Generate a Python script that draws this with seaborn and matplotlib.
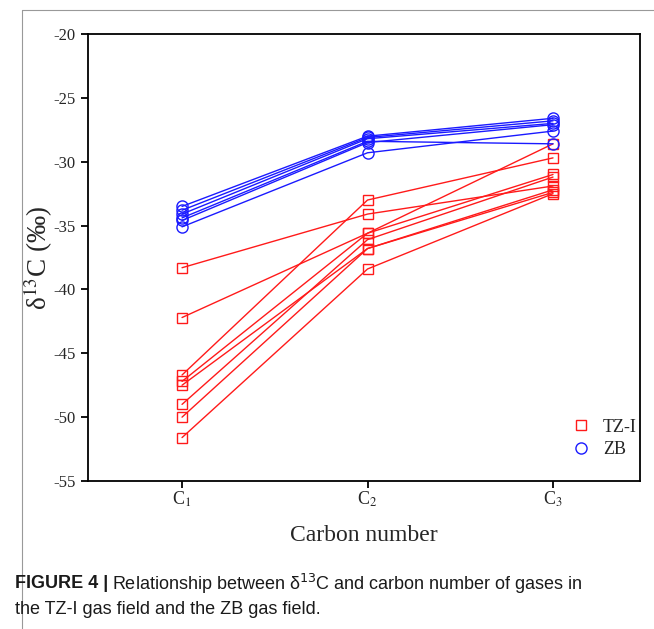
import numpy as np
import pandas as pd
import matplotlib
matplotlib.use("Agg")
import matplotlib.pyplot as plt
import seaborn as sns
from matplotlib.lines import Line2D
from matplotlib import font_manager

# ---------------- data ----------------
carbon_pos = [1, 2, 3]
carbon_labels = ["C$_1$", "C$_2$", "C$_3$"]

tz_c1 = [-38.3, -42.2, -46.7, -47.2, -47.5, -49.0, -50.0, -51.6]
tz_c2 = [-34.1, -35.6, -33.0, -35.6, -36.8, -36.1, -36.8, -38.4]
tz_c3 = [-31.9, -31.0, -29.7, -28.6, -32.2, -31.2, -32.4, -32.5]

zb_c1 = [-33.5, -33.8, -34.1, -34.4, -34.6, -35.1]
zb_c2 = [-28.0, -28.1, -28.2, -28.4, -28.5, -29.3]
zb_c3 = [-26.6, -26.8, -27.0, -28.6, -27.1, -27.6]

groups = ["TZ-I", "ZB"]
y_ticks = [-20, -25, -30, -35, -40, -45, -50, -55]


def long_form(name, c1, c2, c3):
    rows = []
    for i, vals in enumerate(zip(c1, c2, c3)):
        for x, v in zip(carbon_pos, vals):
            rows.append({"group": name, "sample": f"{name}-{i}", "carbon": x, "d13C": v})
    return rows


df = pd.DataFrame(long_form("TZ-I", tz_c1, tz_c2, tz_c3) + long_form("ZB", zb_c1, zb_c2, zb_c3))

# ---------------- style ----------------
sns.set_style("white")
plt.rcParams["font.family"] = ["Liberation Serif", "DejaVu Serif"]
plt.rcParams["mathtext.fontset"] = "stix"

fig = plt.figure(figsize=(6.54, 6.29), dpi=100)
ax = fig.add_axes([88 / 654, 1 - 481 / 629, (640 - 88) / 654, (481 - 34) / 629])

colors = {"TZ-I": "#ff1a1a", "ZB": "#1a1aff"}
markers = {"TZ-I": "s", "ZB": "o"}
msizes = {"TZ-I": 7.2, "ZB": 8.0}

for g in groups:
    sub = df[df["group"] == g]
    sns.lineplot(data=sub, x="carbon", y="d13C", units="sample", estimator=None,
                 color=colors[g], linewidth=1.0, marker=markers[g],
                 markersize=msizes[g], markerfacecolor="none",
                 markeredgecolor=colors[g], markeredgewidth=1.0,
                 legend=False, ax=ax, sort=False)

ax.set_xlim(0.493, 3.469)
ax.set_ylim(-55, -20)
ax.set_xticks(carbon_pos)
ax.set_xticklabels(carbon_labels, fontsize=13, family=["Liberation Serif"])
ax.set_yticks(y_ticks)
ax.set_yticklabels([str(t) for t in y_ticks], fontsize=12, family=["Liberation Serif"])
ax.tick_params(axis="x", pad=1.5)
ax.tick_params(axis="y", pad=4)
ax.tick_params(axis="both", direction="out", length=5, width=1.3, color="black",
               left=True, bottom=True, top=False, right=False)
for s in ax.spines.values():
    s.set_linewidth(1.3)
    s.set_color("black")

ax.set_xlabel("Carbon number", fontsize=17, labelpad=11)
ax.set_ylabel("δ$^{13}$C (‰)", fontsize=19.5, labelpad=-1)

handles = [Line2D([], [], linestyle="none", marker=markers[g], markersize=msizes[g],
                  markerfacecolor="none", markeredgecolor=colors[g], markeredgewidth=1.0)
           for g in groups]
ax.legend(handles, groups, loc="lower right", bbox_to_anchor=(1.024, 0.015),
          frameon=False, fontsize=13, handletextpad=0.75, labelspacing=0.3,
          handlelength=1.0)

# ---------------- caption ----------------
avail = {f.name for f in font_manager.fontManager.ttflist}
cap_font = ["Liberation Sans Narrow", "Liberation Sans", "DejaVu Sans"]
cap_font = [f for f in cap_font if f in avail] or ["DejaVu Sans"]

cap_size = 13
t1 = fig.text(15 / 654, 1 - 584 / 629, "FIGURE 4 |", fontsize=cap_size, fontweight="bold",
              family=cap_font, va="center", ha="left", color="#1a1a1a")
fig.canvas.draw()
bb = t1.get_window_extent()
x2 = (bb.x1 + 4) / fig.bbox.width
fig.text(x2, 1 - 584 / 629, "Relationship between δ$^{13}$C and carbon number of gases in",
         fontsize=cap_size, family=cap_font, va="center", ha="left", color="#1a1a1a",
         math_fontfamily="dejavusans")
fig.text(15 / 654, 1 - 609 / 629, "the TZ-I gas field and the ZB gas field.",
         fontsize=cap_size, family=cap_font, va="center", ha="left", color="#1a1a1a")

# frame lines of the figure panel
fig.add_artist(Line2D([22 / 654, 1], [1 - 10 / 629, 1 - 10 / 629], color="#999999", lw=0.8))
fig.add_artist(Line2D([22 / 654, 22 / 654], [0, 1 - 10 / 629], color="#999999", lw=0.8))

fig.savefig("out.png", dpi=100)
